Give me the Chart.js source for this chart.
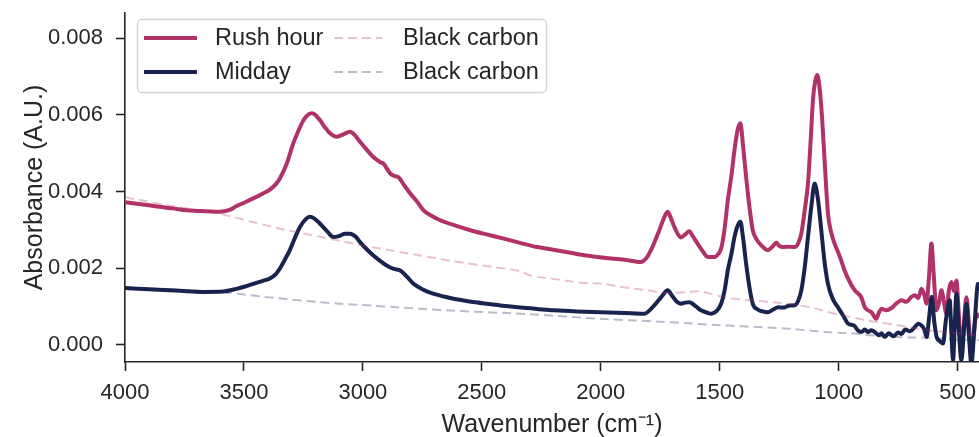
<!DOCTYPE html>
<html>
<head>
<meta charset="utf-8">
<script src="https://cdn.jsdelivr.net/npm/chart.js@4.4.1/dist/chart.umd.min.js"></script>
<style>
  html, body { margin: 0; padding: 0; background: #fff; }
</style>
</head>
<body>
<canvas id="spectrum" width="979" height="437"></canvas>
<script>
// values (wavenumber in cm-1, absorbance in A.U.)
const rushWn = [4000, 3950, 3900, 3855, 3800, 3742, 3680, 3602, 3560, 3531, 3495, 3461, 3420, 3391, 3365, 3349, 3320, 3293, 3270, 3257, 3235, 3215, 3200, 3180, 3160, 3138, 3110, 3080, 3054, 3035, 3012, 2985, 2956, 2925, 2914, 2885, 2865, 2850, 2825, 2801, 2770, 2745, 2710, 2675, 2610, 2548, 2480, 2408, 2340, 2267, 2200, 2127, 2060, 1986, 1900, 1831, 1810, 1789, 1754, 1735, 1719, 1705, 1691, 1675, 1663, 1645, 1628, 1612, 1593, 1570, 1550, 1522, 1505, 1494, 1480, 1466, 1450, 1438, 1425, 1413, 1402, 1389, 1375, 1361, 1345, 1326, 1298, 1280, 1262, 1250, 1234, 1210, 1185, 1170, 1157, 1143, 1129, 1118, 1108, 1098, 1090, 1080, 1070, 1058, 1045, 1030, 1017, 995, 975, 950, 932, 905, 890, 877, 862, 842, 830, 820, 800, 778, 757, 736, 715, 694, 680, 665, 652, 640, 631, 620, 610, 600, 589, 578, 568, 557, 547, 537, 526, 515, 505, 495, 484, 473, 463, 452, 442, 431, 421, 410];
const rushAbs = [0.00372, 0.00368, 0.00364, 0.00360, 0.00356, 0.00351, 0.00349, 0.00347, 0.00352, 0.00362, 0.00372, 0.00382, 0.00395, 0.00405, 0.00420, 0.00434, 0.00473, 0.00525, 0.00560, 0.00578, 0.00598, 0.00604, 0.00600, 0.00586, 0.00568, 0.00552, 0.00543, 0.00550, 0.00556, 0.00548, 0.00530, 0.00510, 0.00490, 0.00476, 0.00473, 0.00447, 0.00440, 0.00437, 0.00415, 0.00395, 0.00372, 0.00351, 0.00336, 0.00325, 0.00311, 0.00299, 0.00288, 0.00277, 0.00266, 0.00255, 0.00248, 0.00240, 0.00233, 0.00227, 0.00222, 0.00216, 0.00225, 0.00247, 0.00299, 0.00330, 0.00347, 0.00330, 0.00308, 0.00288, 0.00280, 0.00288, 0.00296, 0.00282, 0.00264, 0.00243, 0.00229, 0.00229, 0.00238, 0.00251, 0.00300, 0.00377, 0.00445, 0.00508, 0.00560, 0.00578, 0.00520, 0.00438, 0.00360, 0.00299, 0.00275, 0.00260, 0.00247, 0.00255, 0.00266, 0.00258, 0.00255, 0.00256, 0.00255, 0.00265, 0.00290, 0.00350, 0.00421, 0.00530, 0.00639, 0.00690, 0.00704, 0.00670, 0.00595, 0.00470, 0.00343, 0.00290, 0.00264, 0.00230, 0.00194, 0.00160, 0.00142, 0.00124, 0.00098, 0.00090, 0.00085, 0.00068, 0.00085, 0.00094, 0.00090, 0.00096, 0.00108, 0.00116, 0.00112, 0.00125, 0.00129, 0.00122, 0.00146, 0.00130, 0.00107, 0.00180, 0.00264, 0.00180, 0.00090, 0.00110, 0.00142, 0.00110, 0.00081, 0.00140, 0.00164, 0.00140, 0.00168, 0.00080, -0.00024, 0.00060, 0.00124, 0.00050, -0.00024, 0.00030, 0.00081, 0.00070];

const middayWn = [4000, 3900, 3812, 3740, 3672, 3588, 3531, 3495, 3461, 3420, 3391, 3365, 3349, 3330, 3307, 3285, 3265, 3240, 3223, 3205, 3180, 3150, 3124, 3100, 3075, 3054, 3030, 3012, 2985, 2956, 2925, 2900, 2870, 2843, 2815, 2787, 2750, 2717, 2660, 2619, 2550, 2478, 2400, 2338, 2260, 2197, 2100, 2000, 1900, 1817, 1775, 1745, 1719, 1700, 1680, 1663, 1645, 1628, 1600, 1579, 1550, 1536, 1510, 1494, 1480, 1466, 1450, 1438, 1425, 1413, 1402, 1389, 1375, 1361, 1340, 1320, 1298, 1275, 1255, 1230, 1210, 1185, 1170, 1157, 1143, 1129, 1115, 1101, 1087, 1073, 1060, 1045, 1025, 1003, 980, 960, 935, 920, 904, 890, 877, 862, 848, 830, 820, 806, 790, 770, 750, 736, 720, 700, 680, 666, 651, 640, 630, 620, 609, 598, 588, 575, 561, 550, 540, 533, 526, 519, 512, 505, 495, 484, 473, 463, 452, 442, 428, 414, 410];
const middayAbs = [0.00148, 0.00145, 0.00142, 0.00140, 0.00138, 0.00139, 0.00146, 0.00152, 0.00159, 0.00167, 0.00173, 0.00185, 0.00199, 0.00220, 0.00247, 0.00280, 0.00307, 0.00328, 0.00334, 0.00330, 0.00316, 0.00296, 0.00281, 0.00284, 0.00290, 0.00290, 0.00282, 0.00268, 0.00250, 0.00233, 0.00218, 0.00207, 0.00198, 0.00194, 0.00178, 0.00159, 0.00145, 0.00136, 0.00126, 0.00120, 0.00113, 0.00107, 0.00101, 0.00097, 0.00093, 0.00090, 0.00087, 0.00085, 0.00083, 0.00081, 0.00103, 0.00125, 0.00142, 0.00128, 0.00112, 0.00107, 0.00110, 0.00111, 0.00100, 0.00090, 0.00083, 0.00081, 0.00090, 0.00107, 0.00140, 0.00194, 0.00240, 0.00281, 0.00310, 0.00321, 0.00280, 0.00212, 0.00150, 0.00107, 0.00092, 0.00087, 0.00085, 0.00092, 0.00098, 0.00097, 0.00102, 0.00103, 0.00115, 0.00142, 0.00200, 0.00281, 0.00360, 0.00421, 0.00380, 0.00299, 0.00220, 0.00159, 0.00120, 0.00098, 0.00075, 0.00055, 0.00050, 0.00038, 0.00033, 0.00040, 0.00033, 0.00038, 0.00033, 0.00025, 0.00030, 0.00020, 0.00030, 0.00022, 0.00032, 0.00028, 0.00040, 0.00035, 0.00046, 0.00055, 0.00050, 0.00040, 0.00020, 0.00070, 0.00125, 0.00060, 0.00020, 0.00010, 0.00003, 0.00060, 0.00100, 0.00116, 0.00030, -0.00040, 0.00050, 0.00133, 0.00040, -0.00040, 0.00040, 0.00107, 0.00020, -0.00050, 0.00060, 0.00159, 0.00140];

const bcRushWn = [4000, 3800, 3602, 3460, 3320, 3180, 3040, 2900, 2759, 2600, 2408, 2340, 2296, 2200, 2057, 2000, 1916, 1800, 1719, 1650, 1593, 1520, 1438, 1330, 1213, 1100, 1017, 947, 876, 760, 666, 550, 410];
const bcRushAbs = [0.00385, 0.00362, 0.00342, 0.00320, 0.00299, 0.00282, 0.00264, 0.00248, 0.00233, 0.00216, 0.00199, 0.00192, 0.00181, 0.00172, 0.00161, 0.00160, 0.00151, 0.00142, 0.00135, 0.00137, 0.00140, 0.00130, 0.00120, 0.00114, 0.00107, 0.00095, 0.00081, 0.00072, 0.00063, 0.00052, 0.00042, 0.00033, 0.00024];

const bcMiddayWn = [4000, 3800, 3602, 3400, 3180, 2960, 2759, 2550, 2338, 2150, 1986, 1800, 1607, 1400, 1213, 1050, 947, 850, 750, 610, 500, 410];
const bcMiddayAbs = [0.00149, 0.00144, 0.00138, 0.00124, 0.00111, 0.00102, 0.00094, 0.00087, 0.00081, 0.00074, 0.00067, 0.00062, 0.00055, 0.00048, 0.00042, 0.00033, 0.00030, 0.00024, 0.00020, 0.00018, 0.00014, 0.00012];

const xTicks = [4000, 3500, 3000, 2500, 2000, 1500, 1000, 500];
const yTicks = [0, 0.002, 0.004, 0.006, 0.008];

const pts = (wn, ab) => wn.map((w, i) => ({ x: w, y: ab[i] }));

const INK = '#262626';
const FAMILY = "'Liberation Sans', Arial, sans-serif";
Chart.defaults.font.family = FAMILY;
Chart.defaults.color = INK;

// matplotlib style legend: two columns, filled column first, in a rounded frame
const boxLegend = {
  id: 'boxLegend',
  afterDraw(chart) {
    const c = chart.ctx;
    const ds = chart.data.datasets;
    c.save();
    c.beginPath();
    c.roundRect(137.5, 19.5, 409, 73, 4);
    c.fillStyle = 'rgba(255,255,255,0.8)';
    c.fill();
    c.strokeStyle = '#d6d6d6';
    c.lineWidth = 1.5;
    c.stroke();
    const cols = [{ x0: 144, x1: 197, tx: 215 }, { x0: 334, x1: 382, tx: 403 }];
    const rows = [38, 72];
    ds.forEach((d, i) => {
      const col = cols[Math.floor(i / 2)];
      const y = rows[i % 2];
      c.beginPath();
      c.setLineDash(d.borderDash || []);
      c.lineWidth = d.borderWidth;
      c.strokeStyle = d.borderColor;
      c.moveTo(col.x0, y);
      c.lineTo(col.x1, y);
      c.stroke();
      c.setLineDash([]);
      c.fillStyle = INK;
      c.font = '23.5px ' + FAMILY;
      c.textBaseline = 'middle';
      c.textAlign = 'left';
      c.fillText(d.label, col.tx, y + 1);
    });
    c.restore();
  }
};

new Chart(document.getElementById('spectrum'), {
  type: 'line',
  data: {
    datasets: [
      { label: 'Rush hour', data: pts(rushWn, rushAbs), borderColor: '#b03268', borderWidth: 4, order: 4 },
      { label: 'Midday', data: pts(middayWn, middayAbs), borderColor: '#18234e', borderWidth: 4, order: 3 },
      { label: 'Black carbon', data: pts(bcRushWn, bcRushAbs), borderColor: 'rgba(176,50,104,0.3)', borderWidth: 2, borderDash: [9, 5], order: 2 },
      { label: 'Black carbon', data: pts(bcMiddayWn, bcMiddayAbs), borderColor: 'rgba(24,35,78,0.3)', borderWidth: 2, borderDash: [9, 5], order: 1 }
    ]
  },
  options: {
    responsive: false,
    animation: false,
    layout: { padding: { top: 13, right: 0, left: 0, bottom: 0 } },
    elements: {
      point: { radius: 0 },
      line: { cubicInterpolationMode: 'monotone', borderJoinStyle: 'round', fill: false }
    },
    plugins: { legend: { display: false }, tooltip: { enabled: false } },
    scales: {
      x: {
        type: 'linear',
        reverse: true,
        min: 410,
        max: 4000,
        afterBuildTicks: s => { s.ticks = xTicks.map(v => ({ value: v })); },
        afterFit: s => { s.height = 75; s.paddingLeft = 0; s.paddingRight = 0; },
        grid: { drawOnChartArea: false, drawTicks: true, tickLength: 9, tickWidth: 1.6, tickColor: INK },
        border: { display: true, color: INK, width: 1.6 },
        ticks: { autoSkip: false, maxRotation: 0, padding: 9, font: { size: 22 }, color: INK, callback: v => String(v) },
        title: { display: true, text: 'Wavenumber (cm\u207B\u00B9)', font: { size: 25 }, color: INK, padding: { top: 0, bottom: -3 } }
      },
      y: {
        min: -0.00045,
        max: 0.00866,
        afterBuildTicks: s => { s.ticks = yTicks.map(v => ({ value: v })); },
        afterFit: s => { s.width = 125; s.paddingTop = 0; s.paddingBottom = 0; },
        grid: { drawOnChartArea: false, drawTicks: true, tickLength: 9, tickWidth: 1.6, tickColor: INK },
        border: { display: true, color: INK, width: 1.6 },
        ticks: { padding: 13, font: { size: 22 }, color: INK, callback: v => v.toFixed(3) },
        title: { display: true, text: 'Absorbance (A.U.)', font: { size: 25 }, color: INK, padding: { top: 20, bottom: 0 } }
      }
    }
  },
  plugins: [boxLegend]
});
</script>
</body>
</html>
